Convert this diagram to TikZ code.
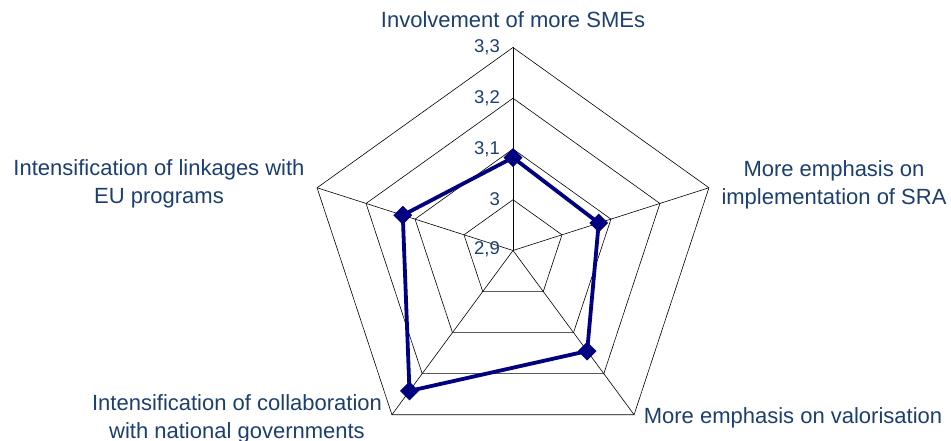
\documentclass[tikz,border=0pt]{standalone}
\usepackage{fontspec}
\setmainfont{Liberation Sans}
\usetikzlibrary{shapes.geometric}
\definecolor{lbl}{RGB}{28,62,112}
\definecolor{navy}{RGB}{0,0,128}

\begin{document}
\begin{tikzpicture}[x=1pt,y=1pt,
		grid/.style={draw=black,line width=0.6pt},
		serie/.style={draw=navy,line width=3.8pt,line join=round},
		dot/.style={diamond,fill=navy,inner sep=0pt,minimum size=19pt},
		axis/.style={text=lbl,font=\fontsize{22}{28}\selectfont,align=center,inner sep=0pt},
		val/.style={text=lbl,font=\fontsize{18.5}{20}\selectfont,anchor=east,inner sep=0pt}]
	\useasboundingbox (0,0) rectangle (951,441);
	% grid
	\coordinate (c) at (513,190.5);
	\foreach \k in {0,...,4}
		\foreach \r in {1,...,4}
			\coordinate (g\k\r) at ({513+206*\r/4*cos(90-72*\k)},{190.5+203*\r/4*sin(90-72*\k)});
	\foreach \r in {1,...,4}
		\draw[grid] (g0\r) -- (g1\r) -- (g2\r) -- (g3\r) -- (g4\r) -- cycle;
	\foreach \k in {0,...,4}
		\draw[grid] (c) -- (g\k4);
	% scale
	\node [val] (s0) at (500,192) {2,9};
	\node [val] (s1) at (500,242) {3};
	\node [val] (s2) at (500,292) {3,1};
	\node [val] (s3) at (500,343) {3,2};
	\node [val] (s4) at (500,394) {3,3};
	% data
	\foreach \k/\v in {0/3.083,1/3.075,2/3.145,3/3.242,4/3.125}
		\coordinate (p\k) at ({513+206*(\v-2.9)/0.4*cos(90-72*\k)},{190.5+203*(\v-2.9)/0.4*sin(90-72*\k)});
	\draw[serie] (p0) -- (p1) -- (p2) -- (p3) -- (p4) -- cycle;
	\foreach \k in {0,...,4}
		\node [dot] (d\k) at (p\k) {};
	% labels
	\node [axis] (sme) at (513,421) {Involvement of more SMEs};
	\node [axis] (sra) at (834,256) {More emphasis on\\implementation of SRA};
	\node [axis] (valo) at (793,23) {More emphasis on valorisation};
	\node [axis] (gov) at (237,22) {Intensification of collaboration\\with national governments};
	\node [axis] (eu) at (159,257) {Intensification of linkages with\\EU programs};
\end{tikzpicture}
\end{document}
